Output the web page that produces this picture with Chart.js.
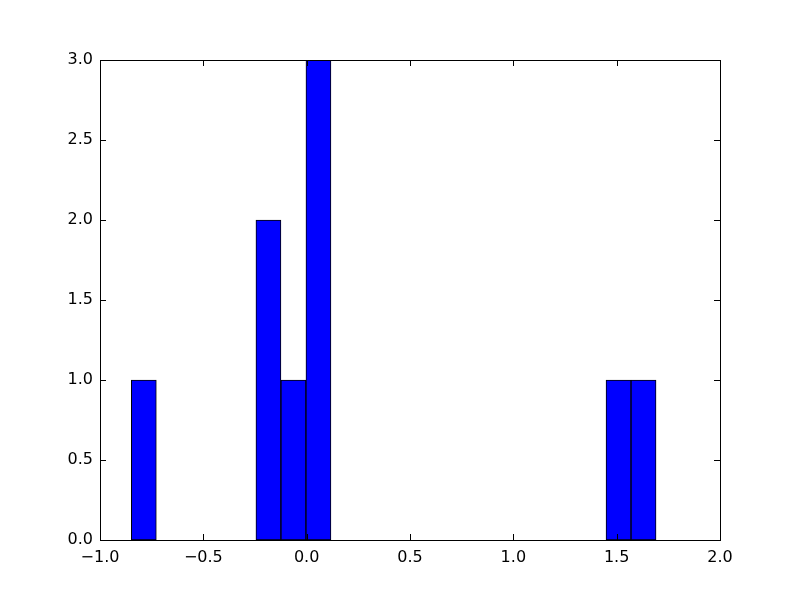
<!DOCTYPE html>
<html>
<head>
<meta charset="utf-8">
<script src="https://cdn.jsdelivr.net/npm/chart.js@4/dist/chart.umd.min.js"></script>
<style>
  html, body { margin: 0; padding: 0; background: #fff; }
</style>
</head>
<body>
<canvas id="chart" width="800" height="600"></canvas>
<script>
// histogram bins that hold values (centre of each bin, bin width ~0.121)
const binCenters = [-0.788, -0.185, -0.064, 0.057, 1.509, 1.630]
const counts = [1, 2, 1, 3, 1, 1]
const xTicks = [-1.0, -0.5, 0.0, 0.5, 1.0, 1.5, 2.0]
const yTicks = [0.0, 0.5, 1.0, 1.5, 2.0, 2.5, 3.0]

const fmt = v => v.toFixed(1).replace('-', '\u2212')

// matplotlib classic look: black frame + inward ticks on all 4 sides
const frameTicks = {
  id: 'frameTicks',
  afterDraw(chart) {
    const { ctx, chartArea: a, scales } = chart
    const len = 6
    ctx.save()
    ctx.strokeStyle = '#000'
    ctx.lineWidth = 1
    ctx.beginPath()
    xTicks.forEach(v => {
      const x = Math.round(scales.x.getPixelForValue(v)) + 0.5
      ctx.moveTo(x, a.bottom); ctx.lineTo(x, a.bottom - len)
      ctx.moveTo(x, a.top); ctx.lineTo(x, a.top + len)
    })
    yTicks.forEach(v => {
      const y = Math.round(scales.y.getPixelForValue(v)) + 0.5
      ctx.moveTo(a.left, y); ctx.lineTo(a.left + len, y)
      ctx.moveTo(a.right, y); ctx.lineTo(a.right - len, y)
    })
    ctx.stroke()
    ctx.strokeRect(Math.round(a.left) + 0.5, Math.round(a.top) + 0.5,
      Math.round(a.right - a.left), Math.round(a.bottom - a.top))
    ctx.restore()
  },
}

new Chart(document.getElementById('chart'), {
  type: 'bar',
  data: {
    datasets: [{
      data: binCenters.map((x, i) => ({ x, y: counts[i] })),
      backgroundColor: '#0000ff',
      borderColor: '#000000',
      borderWidth: 1,
      borderSkipped: false,
      barPercentage: 1,
      categoryPercentage: 1,
    }],
  },
  options: {
    responsive: false,
    animation: false,
    devicePixelRatio: 1,
    layout: { padding: { top: 60, right: 80, left: 0, bottom: 0 } },
    plugins: { legend: { display: false }, tooltip: { enabled: false } },
    scales: {
      x: {
        type: 'linear',
        offset: false,
        min: -1, max: 2,
        afterFit: s => { s.height = 60 },
        afterBuildTicks: s => { s.ticks = xTicks.map(value => ({ value })) },
        grid: { display: false, drawTicks: false, offset: false },
        border: { display: false },
        ticks: {
          padding: 8,
          color: '#000',
          font: { family: 'DejaVu Sans', size: 16 },
          maxRotation: 0,
          callback: v => fmt(v),
        },
      },
      y: {
        min: 0, max: 3,
        afterFit: s => { s.width = 100 },
        afterBuildTicks: s => { s.ticks = yTicks.map(value => ({ value })) },
        grid: { display: false, drawTicks: false },
        border: { display: false },
        ticks: {
          padding: 7,
          color: '#000',
          font: { family: 'DejaVu Sans', size: 16 },
          callback: v => fmt(v),
        },
      },
    },
  },
  plugins: [frameTicks],
})
</script>
</body>
</html>
